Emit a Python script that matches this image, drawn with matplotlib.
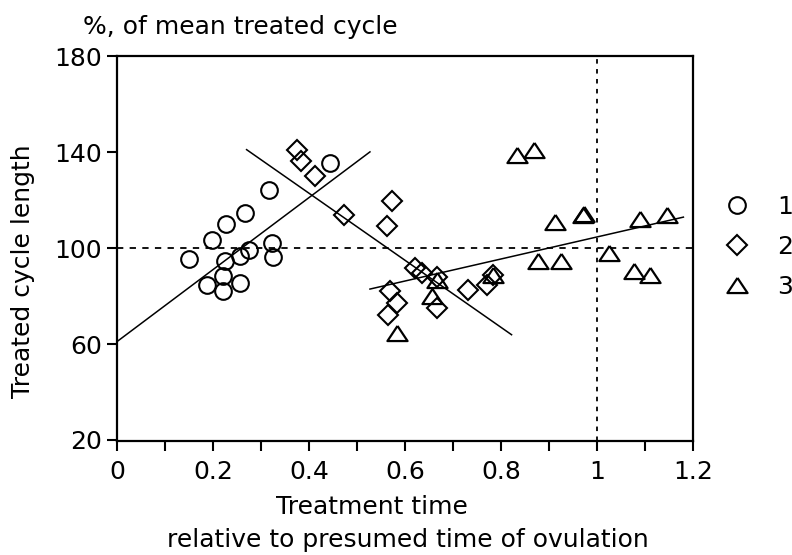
import matplotlib
matplotlib.use("Agg")
import matplotlib.pyplot as plt
import numpy as np

# ---- data ----
g1_x = [0.149, 0.197, 0.228, 0.267, 0.317, 0.322, 0.326, 0.274, 0.256, 0.225,
        0.221, 0.187, 0.221, 0.256, 0.444]
g1_y = [95.4, 103.2, 110.1, 114.6, 124.3, 102.1, 96.3, 99.3, 96.5, 94.4,
        88.2, 84.7, 81.9, 85.4, 135.4]

g2_x = [0.376, 0.384, 0.412, 0.472, 0.572, 0.562, 0.569, 0.583, 0.565, 0.621,
        0.635, 0.666, 0.666, 0.732, 0.770, 0.784]
g2_y = [140.7, 136.1, 129.8, 113.9, 119.4, 109.0, 82.0, 77.1, 72.2, 91.7,
        89.6, 75.0, 87.8, 82.6, 84.7, 88.9]

g3_x = [0.833, 0.869, 0.913, 0.971, 0.973, 0.878, 0.926, 1.024, 1.077, 1.110,
        1.090, 1.145, 0.583, 0.656, 0.666, 0.784]
g3_y = [138.6, 140.7, 110.7, 113.9, 114.3, 94.4, 94.4, 97.9, 90.3, 88.9,
        112.1, 113.9, 64.6, 79.8, 86.8, 88.9]

# regression lines: intercept, slope, x-start, x-end
fit1 = (61.0, 150.0, 0.0, 0.527)
fit2 = (178.7, -139.7, 0.27, 0.822)
fit3 = (58.7, 45.9, 0.527, 1.18)

labels = ["1", "2", "3"]
x_ticks = [0, 0.2, 0.4, 0.6, 0.8, 1, 1.2]
x_ticklabels = ["0", "0.2", "0.4", "0.6", "0.8", "1", "1.2"]
y_ticks = [20, 60, 100, 140, 180]

# ---- figure ----
FS = 18
plt.rcParams['font.family'] = ['DejaVu Sans']
fig = plt.figure(figsize=(7.92, 5.55), dpi=100)
W, H = 792, 555
ax = fig.add_axes([117 / W, 1 - 441 / H, (693 - 117) / W, (441 - 56) / H])

ax.set_xlim(0, 1.2)
ax.set_ylim(180 - (441 - 56) / 2.4, 180)

# reference lines
ax.axhline(100, color='black', lw=1.3, ls=(0, (3.5, 3.5)), zorder=1)
ax.axvline(1, color='black', lw=1.3, ls=(0, (2.5, 3)), zorder=1)

# fit lines
for a, b, x0, x1 in (fit1, fit2, fit3):
    xs = np.array([x0, x1])
    ax.plot(xs, a + b * xs, color='black', lw=1.1, zorder=2)

tri = [(0, 0.75), (-1, -0.75), (1, -0.75), (0, 0.75)]
ax.plot(g1_x, g1_y, ls='none', marker='o', ms=12, mfc='none', mec='black',
        mew=1.5, label=labels[0], zorder=3)
ax.plot(g2_x, g2_y, ls='none', marker='D', ms=10.5, mfc='none', mec='black',
        mew=1.5, label=labels[1], zorder=3)
ax.plot(g3_x, g3_y, ls='none', marker=tri, ms=14.5, mfc='none', mec='black',
        mew=1.6, label=labels[2], zorder=3)

# ticks
ax.set_xticks(x_ticks)
ax.set_xticklabels(x_ticklabels)
ax.set_xticks(np.arange(0.1, 1.2, 0.2), minor=True)
ax.set_yticks(y_ticks)
ax.tick_params(axis='both', which='both', direction='out', length=7,
               width=1.5, labelsize=FS, colors='black')
ax.tick_params(axis='x', pad=7)
ax.tick_params(axis='y', pad=4)
for s in ax.spines.values():
    s.set_linewidth(1.6)

# texts
fig.text(83 / W, 1 - 27 / H, "%, of mean treated cycle", fontsize=FS,
         ha='left', va='center')
fig.text(23 / W, 1 - 271 / H, "Treated cycle length", fontsize=FS,
         rotation=90, ha='center', va='center')
fig.text(372 / W, 1 - 507 / H, "Treatment time", fontsize=FS,
         ha='center', va='center')
fig.text(408 / W, 1 - 540 / H, "relative to presumed time of ovulation",
         fontsize=FS, ha='center', va='center')

leg = ax.legend(loc='upper left', bbox_to_anchor=(722 / W, 1 - 195 / H),
                bbox_transform=fig.transFigure, frameon=False, fontsize=FS,
                handlelength=1.2, handletextpad=1.0, labelspacing=0.63,
                borderpad=0, borderaxespad=0)

fig.savefig("out.png", dpi=100)
